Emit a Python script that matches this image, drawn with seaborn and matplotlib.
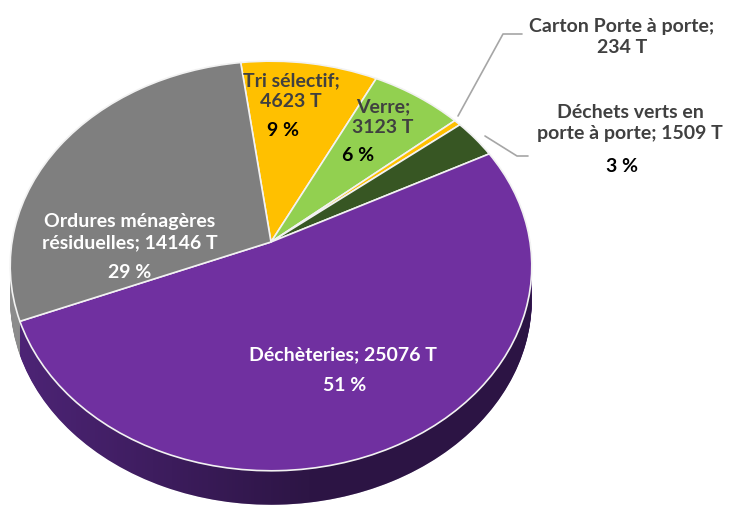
import numpy as np
import matplotlib
matplotlib.use("Agg")
import matplotlib.pyplot as plt
from matplotlib.patches import Polygon
from matplotlib.transforms import Transform, Affine2D
import seaborn as sns

# tonnages par filière (sens horaire depuis le haut)
categories = ["Tri sélectif", "Verre", "Carton Porte à porte",
              "Déchets verts en porte à porte", "Déchèteries",
              "Ordures ménagères résiduelles"]
tonnages = [4623, 3123, 234, 1509, 25076, 14146]
percent_labels = ["9 %", "6 %", "", "3 %", "51 %", "29 %"]
colors = ["#ffc000", "#92d050", "#ffc000", "#375623", "#7030a0", "#7f7f7f"]
side_colors = ["#b38600", "#668f38", "#b38600", "#263c18", "#4d2476", "#8c8c8c"]

sns.set_theme(style="white")
plt.rcParams['font.family'] = ['Lato', 'DejaVu Sans']

W, H = 729, 506
fig = plt.figure(figsize=(W / 100, H / 100), dpi=100)
ax = fig.add_axes([0, 0, 1, 1])

# tilted disc seen in perspective (pixel coordinates)
CX, AY, SX, SY, K = 271, 243, 259, 202, 0.117
DEPTH = 34
START = 97.5


class Tilt(Transform):
    input_dims = output_dims = 2
    is_separable = False
    has_inverse = False

    def transform_non_affine(self, values):
        values = np.asarray(values, dtype=float)
        u, v = values[:, 0], values[:, 1]
        w = 1 + K * v
        return np.column_stack([CX + SX * u / w, AY - SY * v / w])


tilt = Tilt()

# extrusion (3D side)
for t in np.linspace(DEPTH, 0, 45):
    wedges, _ = ax.pie(tonnages, colors=side_colors, startangle=START,
                       counterclock=False, radius=1,
                       wedgeprops=dict(linewidth=0, zorder=1))
    for w in wedges:
        w.set_transform(tilt + Affine2D().translate(0, t) + ax.transData)

# horizontal shading on the side
theta = np.linspace(0.05, -np.pi - 0.05, 200)
rim = tilt.transform(np.column_stack([np.cos(theta), np.sin(theta)]))
band = np.vstack([rim + [0, DEPTH], rim[::-1]])
clip = Polygon(band, closed=True, transform=ax.transData, facecolor="none",
               edgecolor="none")
ax.add_patch(clip)
ramp = np.clip(np.linspace(-0.05, 1.8, 256), 0, 1) * 0.42
shade = np.zeros((1, 256, 4))
shade[..., 3] = ramp
img = ax.imshow(shade, extent=(0, 545, 0, H), aspect="auto",
                zorder=1.5, interpolation="bilinear")
img.set_clip_path(clip)

# top face
wedges, _ = ax.pie(tonnages, colors=colors, startangle=START,
                   counterclock=False, radius=1,
                   wedgeprops=dict(linewidth=1.2, edgecolor="#f2f2f2", zorder=2))
for w in wedges:
    w.set_transform(tilt + ax.transData)

ax.set_aspect("auto")
ax.set_xlim(0, W)
ax.set_ylim(H, 0)
ax.axis("off")

fs = 14
dark = "#404040"


def label(x, y, s, color):
    ax.text(x, y, s, color=color, fontsize=fs, fontweight="bold",
            ha="center", va="center", linespacing=1.3, zorder=3)


label(130, 232, "Ordures ménagères\nrésiduelles; 14146 T", "white")
label(130, 273, percent_labels[5], "white")
label(291, 91, "Tri sélectif;\n4623 T", dark)
label(283, 130, percent_labels[0], "black")
label(383, 117, "Verre;\n3123 T", dark)
label(358, 155, percent_labels[1], "black")
label(622, 37, "Carton Porte à porte;\n234 T", dark)
label(630, 123, "Déchets verts en\nporte à porte; 1509 T", dark)
label(622, 166, percent_labels[3], "black")
label(343, 355, "Déchèteries; 25076 T", "white")
label(345, 386, percent_labels[4], "white")

# leader lines
for pts in [[(458, 117), (503, 35), (522, 35)],
            [(485, 137), (517, 157), (528, 157)]]:
    xs, ys = zip(*pts)
    ax.plot(xs, ys, color="#a6a6a6", linewidth=1.2, zorder=3)

fig.savefig("out.png", dpi=100)
